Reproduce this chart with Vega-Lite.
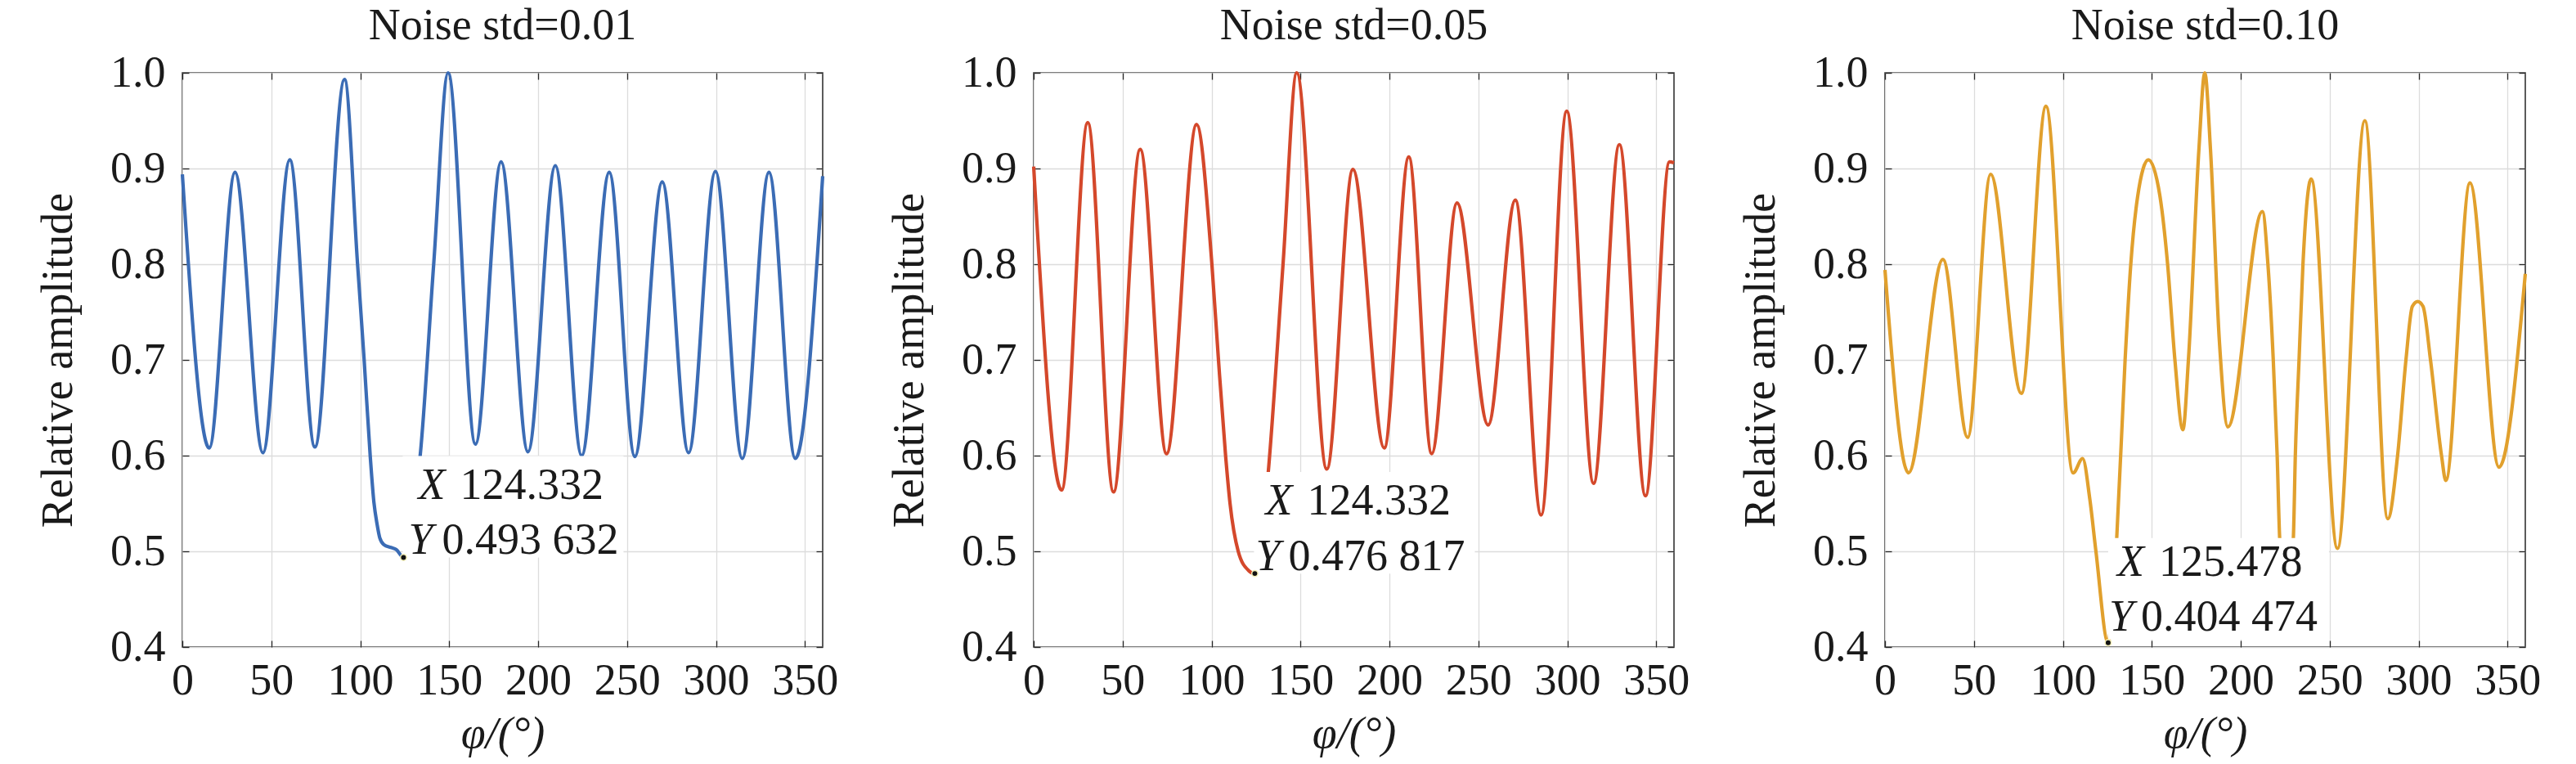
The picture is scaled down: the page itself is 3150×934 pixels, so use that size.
{
  "$schema": "https://vega.github.io/schema/vega-lite/v6.json",
  "padding": {"left": 43, "top": 4, "right": 5, "bottom": 2},
  "background": "white",
  "bounds": "flush",
  "spacing": 258,
  "config": {
    "font": "Liberation Serif",
    "view": {"stroke": "#262626", "strokeWidth": 1.5},
    "text": {"font": "Liberation Serif"},
    "axis": {"domain": false, "tickSize": -8, "tickColor": "#262626", "tickWidth": 1.3, "gridColor": "#dcdcdc", "gridWidth": 1.3, "labelFont": "Liberation Serif", "labelFontSize": 54, "labelColor": "#1a1a1a", "labelFlush": false, "labelOverlap": false, "titleFont": "Liberation Serif", "titleFontSize": 54, "titleFontWeight": "normal", "titleColor": "#1a1a1a"},
    "axisBottom": {"labelPadding": 22},
    "axisLeft": {"labelPadding": 29},
    "title": {"font": "Liberation Serif", "fontSize": 54, "fontWeight": "normal", "color": "#1a1a1a", "baseline": "alphabetic", "offset": 3, "frame": "group", "anchor": "middle"}
  },
  "datasets": {
    "c1": [
      {"phi": 0, "amp": 0.894}, {"phi": 15.1, "amp": 0.608}, {"phi": 29.6, "amp": 0.896}, {"phi": 45.3, "amp": 0.603},
      {"phi": 60.4, "amp": 0.909}, {"phi": 74.5, "amp": 0.609}, {"phi": 91.2, "amp": 0.993}, {"phi": 98.5, "amp": 0.80},
      {"phi": 102.2, "amp": 0.70}, {"phi": 105.6, "amp": 0.60}, {"phi": 107.7, "amp": 0.551}, {"phi": 109.5, "amp": 0.528},
      {"phi": 111.0, "amp": 0.514}, {"phi": 113.3, "amp": 0.507}, {"phi": 117.2, "amp": 0.504}, {"phi": 120.2, "amp": 0.502},
      {"phi": 124.332, "amp": 0.493632}, {"phi": 128.5, "amp": 0.53}, {"phi": 133.7, "amp": 0.60}, {"phi": 141.3, "amp": 0.80},
      {"phi": 149.4, "amp": 1.0}, {"phi": 164.8, "amp": 0.612}, {"phi": 179.2, "amp": 0.907}, {"phi": 194.3, "amp": 0.604},
      {"phi": 209.7, "amp": 0.903}, {"phi": 224.5, "amp": 0.600}, {"phi": 240.0, "amp": 0.896}, {"phi": 254.4, "amp": 0.599},
      {"phi": 269.8, "amp": 0.886}, {"phi": 284.6, "amp": 0.603}, {"phi": 299.7, "amp": 0.897}, {"phi": 314.8, "amp": 0.597},
      {"phi": 329.8, "amp": 0.896}, {"phi": 344.6, "amp": 0.597}, {"phi": 360, "amp": 0.892}
    ],
    "c2": [
      {"phi": 0, "amp": 0.902}, {"phi": 15.7, "amp": 0.564}, {"phi": 30.4, "amp": 0.948}, {"phi": 44.9, "amp": 0.562},
      {"phi": 59.9, "amp": 0.920}, {"phi": 74.7, "amp": 0.602}, {"phi": 91.6, "amp": 0.946}, {"phi": 100.2, "amp": 0.80},
      {"phi": 103.9, "amp": 0.70}, {"phi": 107.9, "amp": 0.60}, {"phi": 110.4, "amp": 0.55}, {"phi": 115.0, "amp": 0.50},
      {"phi": 120.8, "amp": 0.480}, {"phi": 124.332, "amp": 0.476817}, {"phi": 128.0, "amp": 0.51}, {"phi": 131.9, "amp": 0.583},
      {"phi": 140.2, "amp": 0.80}, {"phi": 147.9, "amp": 1.0}, {"phi": 164.8, "amp": 0.586}, {"phi": 179.5, "amp": 0.899},
      {"phi": 197.1, "amp": 0.608}, {"phi": 210.9, "amp": 0.912}, {"phi": 223.8, "amp": 0.602}, {"phi": 238.0, "amp": 0.864},
      {"phi": 255.5, "amp": 0.632}, {"phi": 270.8, "amp": 0.867}, {"phi": 285.3, "amp": 0.538}, {"phi": 299.7, "amp": 0.960},
      {"phi": 314.8, "amp": 0.571}, {"phi": 329.3, "amp": 0.925}, {"phi": 344.0, "amp": 0.558}, {"phi": 357.5, "amp": 0.907},
      {"phi": 360, "amp": 0.906}
    ],
    "c3": [
      {"phi": 0, "amp": 0.794}, {"phi": 13.2, "amp": 0.582}, {"phi": 32.6, "amp": 0.805}, {"phi": 46.5, "amp": 0.619},
      {"phi": 59.4, "amp": 0.894}, {"phi": 76.7, "amp": 0.665}, {"phi": 90.5, "amp": 0.965}, {"phi": 105.8, "amp": 0.582},
      {"phi": 111.1, "amp": 0.597}, {"phi": 115.2, "amp": 0.554}, {"phi": 118.6, "amp": 0.500}, {"phi": 125.478, "amp": 0.404474},
      {"phi": 128.0, "amp": 0.45}, {"phi": 130.3, "amp": 0.514}, {"phi": 135.0, "amp": 0.70}, {"phi": 138.2, "amp": 0.80},
      {"phi": 142.0, "amp": 0.87}, {"phi": 148.1, "amp": 0.909}, {"phi": 154.6, "amp": 0.871}, {"phi": 158.9, "amp": 0.80},
      {"phi": 163.0, "amp": 0.70}, {"phi": 167.5, "amp": 0.627}, {"phi": 170.6, "amp": 0.70}, {"phi": 176.5, "amp": 0.92},
      {"phi": 179.8, "amp": 1.0}, {"phi": 183.0, "amp": 0.92}, {"phi": 188.0, "amp": 0.72}, {"phi": 192.8, "amp": 0.630},
      {"phi": 212.2, "amp": 0.855}, {"phi": 215.3, "amp": 0.80}, {"phi": 218.3, "amp": 0.70}, {"phi": 220.5, "amp": 0.60},
      {"phi": 221.9, "amp": 0.514}, {"phi": 225.7, "amp": 0.44}, {"phi": 229.6, "amp": 0.514}, {"phi": 230.7, "amp": 0.60},
      {"phi": 232.8, "amp": 0.70}, {"phi": 235.0, "amp": 0.80}, {"phi": 239.6, "amp": 0.889}, {"phi": 254.4, "amp": 0.503},
      {"phi": 269.8, "amp": 0.950}, {"phi": 282.7, "amp": 0.534}, {"phi": 288.2, "amp": 0.60}, {"phi": 292.9, "amp": 0.70},
      {"phi": 296.5, "amp": 0.756}, {"phi": 299.5, "amp": 0.761}, {"phi": 302.5, "amp": 0.756}, {"phi": 306.7, "amp": 0.70},
      {"phi": 312.9, "amp": 0.60}, {"phi": 315.3, "amp": 0.574}, {"phi": 328.9, "amp": 0.885}, {"phi": 345.2, "amp": 0.588},
      {"phi": 360, "amp": 0.790}
    ],
    "t1": [{"phi": 124.332, "amp": 0.493632, "xl": "X", "yl": "Y", "xs": "124.332", "ys": "0.493 632"}],
    "t2": [{"phi": 124.332, "amp": 0.476817, "xl": "X", "yl": "Y", "xs": "124.332", "ys": "0.476 817"}],
    "t3": [{"phi": 125.478, "amp": 0.404474, "xl": "X", "yl": "Y", "xs": "125.478", "ys": "0.404 474"}]
  },
  "hconcat": [
    {
      "width": 783, "height": 702,
      "title": "Noise std=0.01",
      "data": {"name": "t1"},
      "resolve": {"axis": {"x": "independent", "y": "independent"}},
      "layer": [
        {"data": {"name": "c1"},
         "mark": {"type": "line", "color": "#3b6cb5", "strokeWidth": 4.2, "interpolate": "monotone"},
         "encoding": {
           "x": {"field": "phi", "type": "quantitative", "scale": {"domain": [0, 360], "nice": false, "zero": false}, "axis": {"orient": "bottom", "values": [0, 50, 100, 150, 200, 250, 300, 350], "labelFont": "Liberation Serif", "titleFont": "Liberation Serif", "title": "φ/(°)", "titleFontStyle": "italic", "titleBaseline": "alphabetic", "titleY": 122, "titleAlign": "center"}},
           "y": {"field": "amp", "type": "quantitative", "scale": {"domain": [0.4, 1.0], "nice": false, "zero": false}, "axis": {"orient": "left", "values": [0.4, 0.5, 0.6, 0.7, 0.8, 0.9, 1.0], "format": ".1f", "labelFont": "Liberation Serif", "titleFont": "Liberation Serif", "title": "Relative amplitude", "titleBaseline": "alphabetic", "titleX": -136, "titleY": 351, "titleAngle": -90, "titleAlign": "center"}}
         }},
        {"mark": {"type": "point", "shape": "M-1,-0.4593L1,-0.4593L1,0.4593L-1,0.4593Z", "size": 72900, "filled": true, "color": "white", "opacity": 1, "strokeWidth": 0, "xOffset": 134, "yOffset": -62},
         "encoding": {
           "x": {"field": "phi", "type": "quantitative", "axis": {"orient": "top", "values": [0, 50, 100, 150, 200, 250, 300, 350], "labels": false, "grid": false, "title": null}},
           "y": {"field": "amp", "type": "quantitative", "axis": {"orient": "right", "values": [0.4, 0.5, 0.6, 0.7, 0.8, 0.9, 1.0], "labels": false, "grid": false, "title": null}}
         }},
        {"mark": {"type": "text", "align": "left", "baseline": "alphabetic", "font": "Liberation Serif", "fontSize": 54, "fontStyle": "italic", "color": "#1a1a1a", "dx": 18, "dy": -71},
         "encoding": {"x": {"field": "phi", "type": "quantitative", "axis": null}, "y": {"field": "amp", "type": "quantitative", "axis": null}, "text": {"field": "xl"}}},
        {"mark": {"type": "text", "align": "left", "baseline": "alphabetic", "font": "Liberation Serif", "fontSize": 54, "color": "#1a1a1a", "dx": 69, "dy": -71},
         "encoding": {"x": {"field": "phi", "type": "quantitative", "axis": null}, "y": {"field": "amp", "type": "quantitative", "axis": null}, "text": {"field": "xs"}}},
        {"mark": {"type": "text", "align": "left", "baseline": "alphabetic", "font": "Liberation Serif", "fontSize": 54, "fontStyle": "italic", "color": "#1a1a1a", "dx": 6, "dy": -4},
         "encoding": {"x": {"field": "phi", "type": "quantitative", "axis": null}, "y": {"field": "amp", "type": "quantitative", "axis": null}, "text": {"field": "yl"}}},
        {"mark": {"type": "text", "align": "left", "baseline": "alphabetic", "font": "Liberation Serif", "fontSize": 54, "color": "#1a1a1a", "dx": 47, "dy": -4},
         "encoding": {"x": {"field": "phi", "type": "quantitative", "axis": null}, "y": {"field": "amp", "type": "quantitative", "axis": null}, "text": {"field": "ys"}}},
        {"mark": {"type": "point", "shape": "circle", "filled": true, "color": "#111111", "opacity": 1, "size": 55, "stroke": "#f3eeb8", "strokeWidth": 1.5},
         "encoding": {"x": {"field": "phi", "type": "quantitative", "axis": null}, "y": {"field": "amp", "type": "quantitative", "axis": null}}}
      ]
    },
    {
      "width": 783, "height": 702,
      "title": "Noise std=0.05",
      "data": {"name": "t2"},
      "resolve": {"axis": {"x": "independent", "y": "independent"}},
      "layer": [
        {"data": {"name": "c2"},
         "mark": {"type": "line", "color": "#d4482b", "strokeWidth": 4.2, "interpolate": "monotone"},
         "encoding": {
           "x": {"field": "phi", "type": "quantitative", "scale": {"domain": [0, 360], "nice": false, "zero": false}, "axis": {"orient": "bottom", "values": [0, 50, 100, 150, 200, 250, 300, 350], "labelFont": "Liberation Serif", "titleFont": "Liberation Serif", "title": "φ/(°)", "titleFontStyle": "italic", "titleBaseline": "alphabetic", "titleY": 122, "titleAlign": "center"}},
           "y": {"field": "amp", "type": "quantitative", "scale": {"domain": [0.4, 1.0], "nice": false, "zero": false}, "axis": {"orient": "left", "values": [0.4, 0.5, 0.6, 0.7, 0.8, 0.9, 1.0], "format": ".1f", "labelFont": "Liberation Serif", "titleFont": "Liberation Serif", "title": "Relative amplitude", "titleBaseline": "alphabetic", "titleX": -136, "titleY": 351, "titleAngle": -90, "titleAlign": "center"}}
         }},
        {"mark": {"type": "point", "shape": "M-1,-0.4593L1,-0.4593L1,0.4593L-1,0.4593Z", "size": 72900, "filled": true, "color": "white", "opacity": 1, "strokeWidth": 0, "xOffset": 134, "yOffset": -62},
         "encoding": {
           "x": {"field": "phi", "type": "quantitative", "axis": {"orient": "top", "values": [0, 50, 100, 150, 200, 250, 300, 350], "labels": false, "grid": false, "title": null}},
           "y": {"field": "amp", "type": "quantitative", "axis": {"orient": "right", "values": [0.4, 0.5, 0.6, 0.7, 0.8, 0.9, 1.0], "labels": false, "grid": false, "title": null}}
         }},
        {"mark": {"type": "text", "align": "left", "baseline": "alphabetic", "font": "Liberation Serif", "fontSize": 54, "fontStyle": "italic", "color": "#1a1a1a", "dx": 13, "dy": -72},
         "encoding": {"x": {"field": "phi", "type": "quantitative", "axis": null}, "y": {"field": "amp", "type": "quantitative", "axis": null}, "text": {"field": "xl"}}},
        {"mark": {"type": "text", "align": "left", "baseline": "alphabetic", "font": "Liberation Serif", "fontSize": 54, "color": "#1a1a1a", "dx": 64, "dy": -72},
         "encoding": {"x": {"field": "phi", "type": "quantitative", "axis": null}, "y": {"field": "amp", "type": "quantitative", "axis": null}, "text": {"field": "xs"}}},
        {"mark": {"type": "text", "align": "left", "baseline": "alphabetic", "font": "Liberation Serif", "fontSize": 54, "fontStyle": "italic", "color": "#1a1a1a", "dx": 1, "dy": -4},
         "encoding": {"x": {"field": "phi", "type": "quantitative", "axis": null}, "y": {"field": "amp", "type": "quantitative", "axis": null}, "text": {"field": "yl"}}},
        {"mark": {"type": "text", "align": "left", "baseline": "alphabetic", "font": "Liberation Serif", "fontSize": 54, "color": "#1a1a1a", "dx": 41, "dy": -4},
         "encoding": {"x": {"field": "phi", "type": "quantitative", "axis": null}, "y": {"field": "amp", "type": "quantitative", "axis": null}, "text": {"field": "ys"}}},
        {"mark": {"type": "point", "shape": "circle", "filled": true, "color": "#111111", "opacity": 1, "size": 55, "stroke": "#f3eeb8", "strokeWidth": 1.5},
         "encoding": {"x": {"field": "phi", "type": "quantitative", "axis": null}, "y": {"field": "amp", "type": "quantitative", "axis": null}}}
      ]
    },
    {
      "width": 783, "height": 702,
      "title": "Noise std=0.10",
      "data": {"name": "t3"},
      "resolve": {"axis": {"x": "independent", "y": "independent"}},
      "layer": [
        {"data": {"name": "c3"},
         "mark": {"type": "line", "color": "#e1a02d", "strokeWidth": 4.2, "interpolate": "monotone"},
         "encoding": {
           "x": {"field": "phi", "type": "quantitative", "scale": {"domain": [0, 360], "nice": false, "zero": false}, "axis": {"orient": "bottom", "values": [0, 50, 100, 150, 200, 250, 300, 350], "labelFont": "Liberation Serif", "titleFont": "Liberation Serif", "title": "φ/(°)", "titleFontStyle": "italic", "titleBaseline": "alphabetic", "titleY": 122, "titleAlign": "center"}},
           "y": {"field": "amp", "type": "quantitative", "scale": {"domain": [0.4, 1.0], "nice": false, "zero": false}, "axis": {"orient": "left", "values": [0.4, 0.5, 0.6, 0.7, 0.8, 0.9, 1.0], "format": ".1f", "labelFont": "Liberation Serif", "titleFont": "Liberation Serif", "title": "Relative amplitude", "titleBaseline": "alphabetic", "titleX": -136, "titleY": 351, "titleAngle": -90, "titleAlign": "center"}}
         }},
        {"mark": {"type": "point", "shape": "M-1,-0.4593L1,-0.4593L1,0.4593L-1,0.4593Z", "size": 72900, "filled": true, "color": "white", "opacity": 1, "strokeWidth": 0, "xOffset": 135, "yOffset": -66},
         "encoding": {
           "x": {"field": "phi", "type": "quantitative", "axis": {"orient": "top", "values": [0, 50, 100, 150, 200, 250, 300, 350], "labels": false, "grid": false, "title": null}},
           "y": {"field": "amp", "type": "quantitative", "axis": {"orient": "right", "values": [0.4, 0.5, 0.6, 0.7, 0.8, 0.9, 1.0], "labels": false, "grid": false, "title": null}}
         }},
        {"mark": {"type": "text", "align": "left", "baseline": "alphabetic", "font": "Liberation Serif", "fontSize": 54, "fontStyle": "italic", "color": "#1a1a1a", "dx": 11, "dy": -82},
         "encoding": {"x": {"field": "phi", "type": "quantitative", "axis": null}, "y": {"field": "amp", "type": "quantitative", "axis": null}, "text": {"field": "xl"}}},
        {"mark": {"type": "text", "align": "left", "baseline": "alphabetic", "font": "Liberation Serif", "fontSize": 54, "color": "#1a1a1a", "dx": 62, "dy": -82},
         "encoding": {"x": {"field": "phi", "type": "quantitative", "axis": null}, "y": {"field": "amp", "type": "quantitative", "axis": null}, "text": {"field": "xs"}}},
        {"mark": {"type": "text", "align": "left", "baseline": "alphabetic", "font": "Liberation Serif", "fontSize": 54, "fontStyle": "italic", "color": "#1a1a1a", "dx": 1, "dy": -15},
         "encoding": {"x": {"field": "phi", "type": "quantitative", "axis": null}, "y": {"field": "amp", "type": "quantitative", "axis": null}, "text": {"field": "yl"}}},
        {"mark": {"type": "text", "align": "left", "baseline": "alphabetic", "font": "Liberation Serif", "fontSize": 54, "color": "#1a1a1a", "dx": 40, "dy": -15},
         "encoding": {"x": {"field": "phi", "type": "quantitative", "axis": null}, "y": {"field": "amp", "type": "quantitative", "axis": null}, "text": {"field": "ys"}}},
        {"mark": {"type": "point", "shape": "circle", "filled": true, "color": "#111111", "opacity": 1, "size": 55, "stroke": "#f3eeb8", "strokeWidth": 1.5},
         "encoding": {"x": {"field": "phi", "type": "quantitative", "axis": null}, "y": {"field": "amp", "type": "quantitative", "axis": null}}}
      ]
    }
  ]
}
